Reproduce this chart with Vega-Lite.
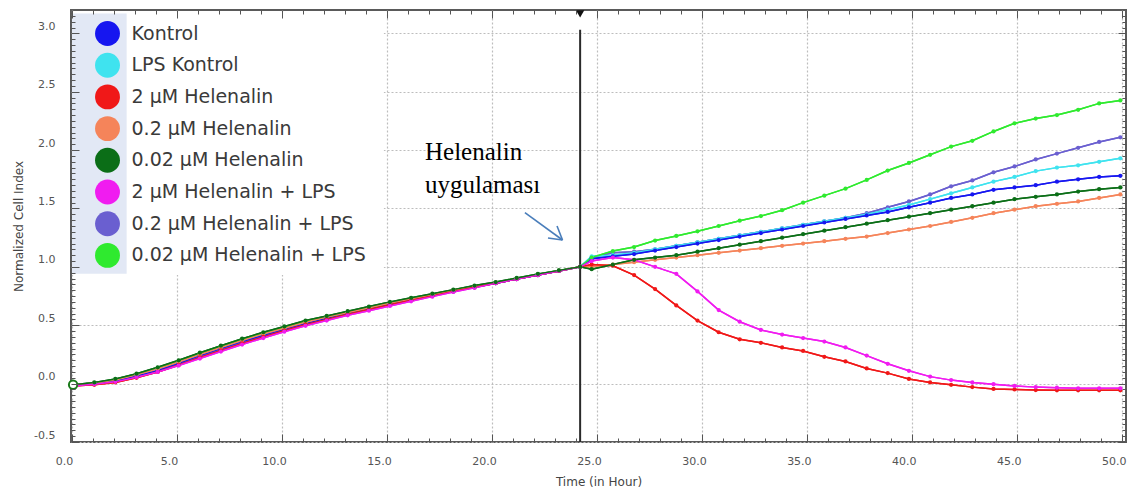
{
  "$schema": "https://vega.github.io/schema/vega-lite/v6.json",
  "width": 1055,
  "height": 432,
  "autosize": {"type": "none"},
  "padding": {"left": 71, "top": 10, "right": 13, "bottom": 61},
  "background": "white",
  "config": {
    "view": {"stroke": "#5a5a5a", "strokeWidth": 2},
    "axis": {"grid": false, "labelFont": "DejaVu Sans", "labelFontSize": 11, "labelColor": "#555555", "titleFont": "DejaVu Sans", "titleFontSize": 12, "titleFontWeight": "normal", "titleColor": "#444444", "tickColor": "#555555", "labelFlush": false, "labelOverlap": false}
  },
  "datasets": {
    "cells": [
      {"series":"0.2 µM Helenalin + LPS","t":0.05,"ci":-0.01},{"series":"0.2 µM Helenalin + LPS","t":1.06,"ci":0.0},{"series":"0.2 µM Helenalin + LPS","t":2.06,"ci":0.025},{"series":"0.2 µM Helenalin + LPS","t":3.07,"ci":0.065},{"series":"0.2 µM Helenalin + LPS","t":4.08,"ci":0.115},{"series":"0.2 µM Helenalin + LPS","t":5.08,"ci":0.17},{"series":"0.2 µM Helenalin + LPS","t":6.09,"ci":0.235},{"series":"0.2 µM Helenalin + LPS","t":7.09,"ci":0.295},{"series":"0.2 µM Helenalin + LPS","t":8.1,"ci":0.355},{"series":"0.2 µM Helenalin + LPS","t":9.11,"ci":0.41},{"series":"0.2 µM Helenalin + LPS","t":10.11,"ci":0.46},{"series":"0.2 µM Helenalin + LPS","t":11.12,"ci":0.51},{"series":"0.2 µM Helenalin + LPS","t":12.13,"ci":0.555},{"series":"0.2 µM Helenalin + LPS","t":13.13,"ci":0.6},{"series":"0.2 µM Helenalin + LPS","t":14.14,"ci":0.64},{"series":"0.2 µM Helenalin + LPS","t":15.14,"ci":0.68},{"series":"0.2 µM Helenalin + LPS","t":16.15,"ci":0.715},{"series":"0.2 µM Helenalin + LPS","t":17.16,"ci":0.755},{"series":"0.2 µM Helenalin + LPS","t":18.16,"ci":0.79},{"series":"0.2 µM Helenalin + LPS","t":19.17,"ci":0.825},{"series":"0.2 µM Helenalin + LPS","t":20.18,"ci":0.86},{"series":"0.2 µM Helenalin + LPS","t":21.18,"ci":0.895},{"series":"0.2 µM Helenalin + LPS","t":22.19,"ci":0.93},{"series":"0.2 µM Helenalin + LPS","t":23.19,"ci":0.965},{"series":"0.2 µM Helenalin + LPS","t":24.2,"ci":1.0},
      {"series":"0.2 µM Helenalin + LPS","t":24.75,"ci":1.08},{"series":"0.2 µM Helenalin + LPS","t":25.76,"ci":1.12},{"series":"0.2 µM Helenalin + LPS","t":26.77,"ci":1.13},{"series":"0.2 µM Helenalin + LPS","t":27.77,"ci":1.15},{"series":"0.2 µM Helenalin + LPS","t":28.78,"ci":1.18},{"series":"0.2 µM Helenalin + LPS","t":29.79,"ci":1.21},{"series":"0.2 µM Helenalin + LPS","t":30.8,"ci":1.24},{"series":"0.2 µM Helenalin + LPS","t":31.8,"ci":1.27},{"series":"0.2 µM Helenalin + LPS","t":32.81,"ci":1.3},{"series":"0.2 µM Helenalin + LPS","t":33.82,"ci":1.33},{"series":"0.2 µM Helenalin + LPS","t":34.82,"ci":1.36},{"series":"0.2 µM Helenalin + LPS","t":35.83,"ci":1.39},{"series":"0.2 µM Helenalin + LPS","t":36.84,"ci":1.42},{"series":"0.2 µM Helenalin + LPS","t":37.85,"ci":1.46},{"series":"0.2 µM Helenalin + LPS","t":38.85,"ci":1.51},{"series":"0.2 µM Helenalin + LPS","t":39.86,"ci":1.56},{"series":"0.2 µM Helenalin + LPS","t":40.87,"ci":1.62},{"series":"0.2 µM Helenalin + LPS","t":41.87,"ci":1.69},{"series":"0.2 µM Helenalin + LPS","t":42.88,"ci":1.74},{"series":"0.2 µM Helenalin + LPS","t":43.89,"ci":1.81},{"series":"0.2 µM Helenalin + LPS","t":44.89,"ci":1.86},{"series":"0.2 µM Helenalin + LPS","t":45.9,"ci":1.92},{"series":"0.2 µM Helenalin + LPS","t":46.91,"ci":1.97},{"series":"0.2 µM Helenalin + LPS","t":47.92,"ci":2.02},{"series":"0.2 µM Helenalin + LPS","t":48.92,"ci":2.07},{"series":"0.2 µM Helenalin + LPS","t":49.93,"ci":2.11},

      {"series":"LPS Kontrol","t":0.05,"ci":-0.01},{"series":"LPS Kontrol","t":1.06,"ci":0.005},{"series":"LPS Kontrol","t":2.06,"ci":0.03},{"series":"LPS Kontrol","t":3.07,"ci":0.07},{"series":"LPS Kontrol","t":4.08,"ci":0.12},{"series":"LPS Kontrol","t":5.08,"ci":0.18},{"series":"LPS Kontrol","t":6.09,"ci":0.245},{"series":"LPS Kontrol","t":7.09,"ci":0.305},{"series":"LPS Kontrol","t":8.1,"ci":0.365},{"series":"LPS Kontrol","t":9.11,"ci":0.42},{"series":"LPS Kontrol","t":10.11,"ci":0.47},{"series":"LPS Kontrol","t":11.12,"ci":0.52},{"series":"LPS Kontrol","t":12.13,"ci":0.565},{"series":"LPS Kontrol","t":13.13,"ci":0.605},{"series":"LPS Kontrol","t":14.14,"ci":0.645},{"series":"LPS Kontrol","t":15.14,"ci":0.685},{"series":"LPS Kontrol","t":16.15,"ci":0.72},{"series":"LPS Kontrol","t":17.16,"ci":0.76},{"series":"LPS Kontrol","t":18.16,"ci":0.795},{"series":"LPS Kontrol","t":19.17,"ci":0.83},{"series":"LPS Kontrol","t":20.18,"ci":0.865},{"series":"LPS Kontrol","t":21.18,"ci":0.9},{"series":"LPS Kontrol","t":22.19,"ci":0.935},{"series":"LPS Kontrol","t":23.19,"ci":0.965},{"series":"LPS Kontrol","t":24.2,"ci":1.0},
      {"series":"LPS Kontrol","t":24.75,"ci":1.09},{"series":"LPS Kontrol","t":25.76,"ci":1.1},{"series":"LPS Kontrol","t":26.77,"ci":1.12},{"series":"LPS Kontrol","t":27.77,"ci":1.15},{"series":"LPS Kontrol","t":28.78,"ci":1.18},{"series":"LPS Kontrol","t":29.79,"ci":1.21},{"series":"LPS Kontrol","t":30.8,"ci":1.24},{"series":"LPS Kontrol","t":31.8,"ci":1.27},{"series":"LPS Kontrol","t":32.81,"ci":1.3},{"series":"LPS Kontrol","t":33.82,"ci":1.33},{"series":"LPS Kontrol","t":34.82,"ci":1.36},{"series":"LPS Kontrol","t":35.83,"ci":1.39},{"series":"LPS Kontrol","t":36.84,"ci":1.42},{"series":"LPS Kontrol","t":37.85,"ci":1.45},{"series":"LPS Kontrol","t":38.85,"ci":1.49},{"series":"LPS Kontrol","t":39.86,"ci":1.53},{"series":"LPS Kontrol","t":40.87,"ci":1.58},{"series":"LPS Kontrol","t":41.87,"ci":1.63},{"series":"LPS Kontrol","t":42.88,"ci":1.68},{"series":"LPS Kontrol","t":43.89,"ci":1.73},{"series":"LPS Kontrol","t":44.89,"ci":1.77},{"series":"LPS Kontrol","t":45.9,"ci":1.82},{"series":"LPS Kontrol","t":46.91,"ci":1.85},{"series":"LPS Kontrol","t":47.92,"ci":1.87},{"series":"LPS Kontrol","t":48.92,"ci":1.9},{"series":"LPS Kontrol","t":49.93,"ci":1.93},

      {"series":"Kontrol","t":0.05,"ci":-0.01},{"series":"Kontrol","t":1.06,"ci":0.0},{"series":"Kontrol","t":2.06,"ci":0.025},{"series":"Kontrol","t":3.07,"ci":0.065},{"series":"Kontrol","t":4.08,"ci":0.115},{"series":"Kontrol","t":5.08,"ci":0.175},{"series":"Kontrol","t":6.09,"ci":0.24},{"series":"Kontrol","t":7.09,"ci":0.3},{"series":"Kontrol","t":8.1,"ci":0.36},{"series":"Kontrol","t":9.11,"ci":0.415},{"series":"Kontrol","t":10.11,"ci":0.465},{"series":"Kontrol","t":11.12,"ci":0.515},{"series":"Kontrol","t":12.13,"ci":0.56},{"series":"Kontrol","t":13.13,"ci":0.6},{"series":"Kontrol","t":14.14,"ci":0.64},{"series":"Kontrol","t":15.14,"ci":0.68},{"series":"Kontrol","t":16.15,"ci":0.72},{"series":"Kontrol","t":17.16,"ci":0.755},{"series":"Kontrol","t":18.16,"ci":0.79},{"series":"Kontrol","t":19.17,"ci":0.83},{"series":"Kontrol","t":20.18,"ci":0.86},{"series":"Kontrol","t":21.18,"ci":0.895},{"series":"Kontrol","t":22.19,"ci":0.93},{"series":"Kontrol","t":23.19,"ci":0.965},{"series":"Kontrol","t":24.2,"ci":1.0},
      {"series":"Kontrol","t":24.75,"ci":1.07},{"series":"Kontrol","t":25.76,"ci":1.09},{"series":"Kontrol","t":26.77,"ci":1.11},{"series":"Kontrol","t":27.77,"ci":1.14},{"series":"Kontrol","t":28.78,"ci":1.17},{"series":"Kontrol","t":29.79,"ci":1.2},{"series":"Kontrol","t":30.8,"ci":1.23},{"series":"Kontrol","t":31.8,"ci":1.26},{"series":"Kontrol","t":32.81,"ci":1.29},{"series":"Kontrol","t":33.82,"ci":1.32},{"series":"Kontrol","t":34.82,"ci":1.35},{"series":"Kontrol","t":35.83,"ci":1.38},{"series":"Kontrol","t":36.84,"ci":1.41},{"series":"Kontrol","t":37.85,"ci":1.44},{"series":"Kontrol","t":38.85,"ci":1.47},{"series":"Kontrol","t":39.86,"ci":1.51},{"series":"Kontrol","t":40.87,"ci":1.55},{"series":"Kontrol","t":41.87,"ci":1.59},{"series":"Kontrol","t":42.88,"ci":1.62},{"series":"Kontrol","t":43.89,"ci":1.66},{"series":"Kontrol","t":44.89,"ci":1.68},{"series":"Kontrol","t":45.9,"ci":1.7},{"series":"Kontrol","t":46.91,"ci":1.73},{"series":"Kontrol","t":47.92,"ci":1.75},{"series":"Kontrol","t":48.92,"ci":1.77},{"series":"Kontrol","t":49.93,"ci":1.78},

      {"series":"0.02 µM Helenalin + LPS","t":0.05,"ci":-0.01},{"series":"0.02 µM Helenalin + LPS","t":1.06,"ci":0.005},{"series":"0.02 µM Helenalin + LPS","t":2.06,"ci":0.035},{"series":"0.02 µM Helenalin + LPS","t":3.07,"ci":0.08},{"series":"0.02 µM Helenalin + LPS","t":4.08,"ci":0.135},{"series":"0.02 µM Helenalin + LPS","t":5.08,"ci":0.195},{"series":"0.02 µM Helenalin + LPS","t":6.09,"ci":0.26},{"series":"0.02 µM Helenalin + LPS","t":7.09,"ci":0.32},{"series":"0.02 µM Helenalin + LPS","t":8.1,"ci":0.38},{"series":"0.02 µM Helenalin + LPS","t":9.11,"ci":0.43},{"series":"0.02 µM Helenalin + LPS","t":10.11,"ci":0.48},{"series":"0.02 µM Helenalin + LPS","t":11.12,"ci":0.53},{"series":"0.02 µM Helenalin + LPS","t":12.13,"ci":0.57},{"series":"0.02 µM Helenalin + LPS","t":13.13,"ci":0.61},{"series":"0.02 µM Helenalin + LPS","t":14.14,"ci":0.65},{"series":"0.02 µM Helenalin + LPS","t":15.14,"ci":0.69},{"series":"0.02 µM Helenalin + LPS","t":16.15,"ci":0.73},{"series":"0.02 µM Helenalin + LPS","t":17.16,"ci":0.765},{"series":"0.02 µM Helenalin + LPS","t":18.16,"ci":0.8},{"series":"0.02 µM Helenalin + LPS","t":19.17,"ci":0.835},{"series":"0.02 µM Helenalin + LPS","t":20.18,"ci":0.865},{"series":"0.02 µM Helenalin + LPS","t":21.18,"ci":0.9},{"series":"0.02 µM Helenalin + LPS","t":22.19,"ci":0.935},{"series":"0.02 µM Helenalin + LPS","t":23.19,"ci":0.97},{"series":"0.02 µM Helenalin + LPS","t":24.2,"ci":1.0},
      {"series":"0.02 µM Helenalin + LPS","t":24.75,"ci":1.08},{"series":"0.02 µM Helenalin + LPS","t":25.76,"ci":1.135},{"series":"0.02 µM Helenalin + LPS","t":26.77,"ci":1.17},{"series":"0.02 µM Helenalin + LPS","t":27.77,"ci":1.225},{"series":"0.02 µM Helenalin + LPS","t":28.78,"ci":1.265},{"series":"0.02 µM Helenalin + LPS","t":29.79,"ci":1.305},{"series":"0.02 µM Helenalin + LPS","t":30.8,"ci":1.35},{"series":"0.02 µM Helenalin + LPS","t":31.8,"ci":1.395},{"series":"0.02 µM Helenalin + LPS","t":32.81,"ci":1.435},{"series":"0.02 µM Helenalin + LPS","t":33.82,"ci":1.485},{"series":"0.02 µM Helenalin + LPS","t":34.82,"ci":1.55},{"series":"0.02 µM Helenalin + LPS","t":35.83,"ci":1.61},{"series":"0.02 µM Helenalin + LPS","t":36.84,"ci":1.67},{"series":"0.02 µM Helenalin + LPS","t":37.85,"ci":1.745},{"series":"0.02 µM Helenalin + LPS","t":38.85,"ci":1.825},{"series":"0.02 µM Helenalin + LPS","t":39.86,"ci":1.89},{"series":"0.02 µM Helenalin + LPS","t":40.87,"ci":1.96},{"series":"0.02 µM Helenalin + LPS","t":41.87,"ci":2.03},{"series":"0.02 µM Helenalin + LPS","t":42.88,"ci":2.08},{"series":"0.02 µM Helenalin + LPS","t":43.89,"ci":2.16},{"series":"0.02 µM Helenalin + LPS","t":44.89,"ci":2.23},{"series":"0.02 µM Helenalin + LPS","t":45.9,"ci":2.27},{"series":"0.02 µM Helenalin + LPS","t":46.91,"ci":2.3},{"series":"0.02 µM Helenalin + LPS","t":47.92,"ci":2.345},{"series":"0.02 µM Helenalin + LPS","t":48.92,"ci":2.4},{"series":"0.02 µM Helenalin + LPS","t":49.93,"ci":2.425},

      {"series":"0.2 µM Helenalin","t":0.05,"ci":-0.01},{"series":"0.2 µM Helenalin","t":1.06,"ci":0.005},{"series":"0.2 µM Helenalin","t":2.06,"ci":0.03},{"series":"0.2 µM Helenalin","t":3.07,"ci":0.075},{"series":"0.2 µM Helenalin","t":4.08,"ci":0.125},{"series":"0.2 µM Helenalin","t":5.08,"ci":0.185},{"series":"0.2 µM Helenalin","t":6.09,"ci":0.25},{"series":"0.2 µM Helenalin","t":7.09,"ci":0.31},{"series":"0.2 µM Helenalin","t":8.1,"ci":0.37},{"series":"0.2 µM Helenalin","t":9.11,"ci":0.425},{"series":"0.2 µM Helenalin","t":10.11,"ci":0.475},{"series":"0.2 µM Helenalin","t":11.12,"ci":0.525},{"series":"0.2 µM Helenalin","t":12.13,"ci":0.57},{"series":"0.2 µM Helenalin","t":13.13,"ci":0.61},{"series":"0.2 µM Helenalin","t":14.14,"ci":0.65},{"series":"0.2 µM Helenalin","t":15.14,"ci":0.69},{"series":"0.2 µM Helenalin","t":16.15,"ci":0.725},{"series":"0.2 µM Helenalin","t":17.16,"ci":0.76},{"series":"0.2 µM Helenalin","t":18.16,"ci":0.8},{"series":"0.2 µM Helenalin","t":19.17,"ci":0.835},{"series":"0.2 µM Helenalin","t":20.18,"ci":0.865},{"series":"0.2 µM Helenalin","t":21.18,"ci":0.9},{"series":"0.2 µM Helenalin","t":22.19,"ci":0.935},{"series":"0.2 µM Helenalin","t":23.19,"ci":0.965},{"series":"0.2 µM Helenalin","t":24.2,"ci":1.0},
      {"series":"0.2 µM Helenalin","t":24.75,"ci":1.0},{"series":"0.2 µM Helenalin","t":25.76,"ci":1.02},{"series":"0.2 µM Helenalin","t":26.77,"ci":1.04},{"series":"0.2 µM Helenalin","t":27.77,"ci":1.06},{"series":"0.2 µM Helenalin","t":28.78,"ci":1.08},{"series":"0.2 µM Helenalin","t":29.79,"ci":1.1},{"series":"0.2 µM Helenalin","t":30.8,"ci":1.12},{"series":"0.2 µM Helenalin","t":31.8,"ci":1.14},{"series":"0.2 µM Helenalin","t":32.81,"ci":1.16},{"series":"0.2 µM Helenalin","t":33.82,"ci":1.18},{"series":"0.2 µM Helenalin","t":34.82,"ci":1.2},{"series":"0.2 µM Helenalin","t":35.83,"ci":1.22},{"series":"0.2 µM Helenalin","t":36.84,"ci":1.24},{"series":"0.2 µM Helenalin","t":37.85,"ci":1.26},{"series":"0.2 µM Helenalin","t":38.85,"ci":1.29},{"series":"0.2 µM Helenalin","t":39.86,"ci":1.32},{"series":"0.2 µM Helenalin","t":40.87,"ci":1.35},{"series":"0.2 µM Helenalin","t":41.87,"ci":1.385},{"series":"0.2 µM Helenalin","t":42.88,"ci":1.42},{"series":"0.2 µM Helenalin","t":43.89,"ci":1.46},{"series":"0.2 µM Helenalin","t":44.89,"ci":1.49},{"series":"0.2 µM Helenalin","t":45.9,"ci":1.52},{"series":"0.2 µM Helenalin","t":46.91,"ci":1.54},{"series":"0.2 µM Helenalin","t":47.92,"ci":1.56},{"series":"0.2 µM Helenalin","t":48.92,"ci":1.59},{"series":"0.2 µM Helenalin","t":49.93,"ci":1.62},

      {"series":"2 µM Helenalin","t":0.05,"ci":-0.02},{"series":"2 µM Helenalin","t":1.06,"ci":-0.01},{"series":"2 µM Helenalin","t":2.06,"ci":0.01},{"series":"2 µM Helenalin","t":3.07,"ci":0.05},{"series":"2 µM Helenalin","t":4.08,"ci":0.1},{"series":"2 µM Helenalin","t":5.08,"ci":0.16},{"series":"2 µM Helenalin","t":6.09,"ci":0.225},{"series":"2 µM Helenalin","t":7.09,"ci":0.285},{"series":"2 µM Helenalin","t":8.1,"ci":0.345},{"series":"2 µM Helenalin","t":9.11,"ci":0.4},{"series":"2 µM Helenalin","t":10.11,"ci":0.455},{"series":"2 µM Helenalin","t":11.12,"ci":0.505},{"series":"2 µM Helenalin","t":12.13,"ci":0.55},{"series":"2 µM Helenalin","t":13.13,"ci":0.595},{"series":"2 µM Helenalin","t":14.14,"ci":0.635},{"series":"2 µM Helenalin","t":15.14,"ci":0.675},{"series":"2 µM Helenalin","t":16.15,"ci":0.715},{"series":"2 µM Helenalin","t":17.16,"ci":0.75},{"series":"2 µM Helenalin","t":18.16,"ci":0.79},{"series":"2 µM Helenalin","t":19.17,"ci":0.825},{"series":"2 µM Helenalin","t":20.18,"ci":0.86},{"series":"2 µM Helenalin","t":21.18,"ci":0.895},{"series":"2 µM Helenalin","t":22.19,"ci":0.93},{"series":"2 µM Helenalin","t":23.19,"ci":0.965},{"series":"2 µM Helenalin","t":24.2,"ci":1.0},
      {"series":"2 µM Helenalin","t":24.75,"ci":1.02},{"series":"2 µM Helenalin","t":25.76,"ci":1.01},{"series":"2 µM Helenalin","t":26.77,"ci":0.93},{"series":"2 µM Helenalin","t":27.77,"ci":0.81},{"series":"2 µM Helenalin","t":28.78,"ci":0.67},{"series":"2 µM Helenalin","t":29.79,"ci":0.54},{"series":"2 µM Helenalin","t":30.8,"ci":0.44},{"series":"2 µM Helenalin","t":31.8,"ci":0.38},{"series":"2 µM Helenalin","t":32.81,"ci":0.35},{"series":"2 µM Helenalin","t":33.82,"ci":0.31},{"series":"2 µM Helenalin","t":34.82,"ci":0.28},{"series":"2 µM Helenalin","t":35.83,"ci":0.23},{"series":"2 µM Helenalin","t":36.84,"ci":0.19},{"series":"2 µM Helenalin","t":37.85,"ci":0.13},{"series":"2 µM Helenalin","t":38.85,"ci":0.09},{"series":"2 µM Helenalin","t":39.86,"ci":0.04},{"series":"2 µM Helenalin","t":40.87,"ci":0.01},{"series":"2 µM Helenalin","t":41.87,"ci":-0.01},{"series":"2 µM Helenalin","t":42.88,"ci":-0.03},{"series":"2 µM Helenalin","t":43.89,"ci":-0.045},{"series":"2 µM Helenalin","t":44.89,"ci":-0.05},{"series":"2 µM Helenalin","t":45.9,"ci":-0.055},{"series":"2 µM Helenalin","t":46.91,"ci":-0.057},{"series":"2 µM Helenalin","t":47.92,"ci":-0.057},{"series":"2 µM Helenalin","t":48.92,"ci":-0.057},{"series":"2 µM Helenalin","t":49.93,"ci":-0.057},

      {"series":"2 µM Helenalin + LPS","t":0.05,"ci":-0.02},{"series":"2 µM Helenalin + LPS","t":1.06,"ci":-0.005},{"series":"2 µM Helenalin + LPS","t":2.06,"ci":0.015},{"series":"2 µM Helenalin + LPS","t":3.07,"ci":0.055},{"series":"2 µM Helenalin + LPS","t":4.08,"ci":0.1},{"series":"2 µM Helenalin + LPS","t":5.08,"ci":0.155},{"series":"2 µM Helenalin + LPS","t":6.09,"ci":0.215},{"series":"2 µM Helenalin + LPS","t":7.09,"ci":0.275},{"series":"2 µM Helenalin + LPS","t":8.1,"ci":0.335},{"series":"2 µM Helenalin + LPS","t":9.11,"ci":0.39},{"series":"2 µM Helenalin + LPS","t":10.11,"ci":0.445},{"series":"2 µM Helenalin + LPS","t":11.12,"ci":0.495},{"series":"2 µM Helenalin + LPS","t":12.13,"ci":0.54},{"series":"2 µM Helenalin + LPS","t":13.13,"ci":0.585},{"series":"2 µM Helenalin + LPS","t":14.14,"ci":0.625},{"series":"2 µM Helenalin + LPS","t":15.14,"ci":0.665},{"series":"2 µM Helenalin + LPS","t":16.15,"ci":0.705},{"series":"2 µM Helenalin + LPS","t":17.16,"ci":0.745},{"series":"2 µM Helenalin + LPS","t":18.16,"ci":0.785},{"series":"2 µM Helenalin + LPS","t":19.17,"ci":0.82},{"series":"2 µM Helenalin + LPS","t":20.18,"ci":0.86},{"series":"2 µM Helenalin + LPS","t":21.18,"ci":0.895},{"series":"2 µM Helenalin + LPS","t":22.19,"ci":0.93},{"series":"2 µM Helenalin + LPS","t":23.19,"ci":0.965},{"series":"2 µM Helenalin + LPS","t":24.2,"ci":1.0},
      {"series":"2 µM Helenalin + LPS","t":24.75,"ci":1.05},{"series":"2 µM Helenalin + LPS","t":25.76,"ci":1.08},{"series":"2 µM Helenalin + LPS","t":26.77,"ci":1.06},{"series":"2 µM Helenalin + LPS","t":27.77,"ci":1.0},{"series":"2 µM Helenalin + LPS","t":28.78,"ci":0.94},{"series":"2 µM Helenalin + LPS","t":29.79,"ci":0.79},{"series":"2 µM Helenalin + LPS","t":30.8,"ci":0.63},{"series":"2 µM Helenalin + LPS","t":31.8,"ci":0.53},{"series":"2 µM Helenalin + LPS","t":32.81,"ci":0.46},{"series":"2 µM Helenalin + LPS","t":33.82,"ci":0.42},{"series":"2 µM Helenalin + LPS","t":34.82,"ci":0.39},{"series":"2 µM Helenalin + LPS","t":35.83,"ci":0.36},{"series":"2 µM Helenalin + LPS","t":36.84,"ci":0.31},{"series":"2 µM Helenalin + LPS","t":37.85,"ci":0.24},{"series":"2 µM Helenalin + LPS","t":38.85,"ci":0.17},{"series":"2 µM Helenalin + LPS","t":39.86,"ci":0.11},{"series":"2 µM Helenalin + LPS","t":40.87,"ci":0.06},{"series":"2 µM Helenalin + LPS","t":41.87,"ci":0.03},{"series":"2 µM Helenalin + LPS","t":42.88,"ci":0.01},{"series":"2 µM Helenalin + LPS","t":43.89,"ci":-0.005},{"series":"2 µM Helenalin + LPS","t":44.89,"ci":-0.02},{"series":"2 µM Helenalin + LPS","t":45.9,"ci":-0.03},{"series":"2 µM Helenalin + LPS","t":46.91,"ci":-0.035},{"series":"2 µM Helenalin + LPS","t":47.92,"ci":-0.04},{"series":"2 µM Helenalin + LPS","t":48.92,"ci":-0.04},{"series":"2 µM Helenalin + LPS","t":49.93,"ci":-0.04},

      {"series":"0.02 µM Helenalin","t":0.05,"ci":-0.01},{"series":"0.02 µM Helenalin","t":1.06,"ci":0.01},{"series":"0.02 µM Helenalin","t":2.06,"ci":0.04},{"series":"0.02 µM Helenalin","t":3.07,"ci":0.085},{"series":"0.02 µM Helenalin","t":4.08,"ci":0.14},{"series":"0.02 µM Helenalin","t":5.08,"ci":0.2},{"series":"0.02 µM Helenalin","t":6.09,"ci":0.265},{"series":"0.02 µM Helenalin","t":7.09,"ci":0.325},{"series":"0.02 µM Helenalin","t":8.1,"ci":0.385},{"series":"0.02 µM Helenalin","t":9.11,"ci":0.44},{"series":"0.02 µM Helenalin","t":10.11,"ci":0.49},{"series":"0.02 µM Helenalin","t":11.12,"ci":0.54},{"series":"0.02 µM Helenalin","t":12.13,"ci":0.58},{"series":"0.02 µM Helenalin","t":13.13,"ci":0.62},{"series":"0.02 µM Helenalin","t":14.14,"ci":0.66},{"series":"0.02 µM Helenalin","t":15.14,"ci":0.7},{"series":"0.02 µM Helenalin","t":16.15,"ci":0.735},{"series":"0.02 µM Helenalin","t":17.16,"ci":0.77},{"series":"0.02 µM Helenalin","t":18.16,"ci":0.805},{"series":"0.02 µM Helenalin","t":19.17,"ci":0.84},{"series":"0.02 µM Helenalin","t":20.18,"ci":0.87},{"series":"0.02 µM Helenalin","t":21.18,"ci":0.905},{"series":"0.02 µM Helenalin","t":22.19,"ci":0.94},{"series":"0.02 µM Helenalin","t":23.19,"ci":0.97},{"series":"0.02 µM Helenalin","t":24.2,"ci":1.0},
      {"series":"0.02 µM Helenalin","t":24.75,"ci":0.98},{"series":"0.02 µM Helenalin","t":25.76,"ci":1.02},{"series":"0.02 µM Helenalin","t":26.77,"ci":1.06},{"series":"0.02 µM Helenalin","t":27.77,"ci":1.08},{"series":"0.02 µM Helenalin","t":28.78,"ci":1.1},{"series":"0.02 µM Helenalin","t":29.79,"ci":1.13},{"series":"0.02 µM Helenalin","t":30.8,"ci":1.16},{"series":"0.02 µM Helenalin","t":31.8,"ci":1.19},{"series":"0.02 µM Helenalin","t":32.81,"ci":1.22},{"series":"0.02 µM Helenalin","t":33.82,"ci":1.25},{"series":"0.02 µM Helenalin","t":34.82,"ci":1.28},{"series":"0.02 µM Helenalin","t":35.83,"ci":1.31},{"series":"0.02 µM Helenalin","t":36.84,"ci":1.34},{"series":"0.02 µM Helenalin","t":37.85,"ci":1.37},{"series":"0.02 µM Helenalin","t":38.85,"ci":1.4},{"series":"0.02 µM Helenalin","t":39.86,"ci":1.43},{"series":"0.02 µM Helenalin","t":40.87,"ci":1.46},{"series":"0.02 µM Helenalin","t":41.87,"ci":1.49},{"series":"0.02 µM Helenalin","t":42.88,"ci":1.52},{"series":"0.02 µM Helenalin","t":43.89,"ci":1.55},{"series":"0.02 µM Helenalin","t":44.89,"ci":1.58},{"series":"0.02 µM Helenalin","t":45.9,"ci":1.6},{"series":"0.02 µM Helenalin","t":46.91,"ci":1.62},{"series":"0.02 µM Helenalin","t":47.92,"ci":1.645},{"series":"0.02 µM Helenalin","t":48.92,"ci":1.665},{"series":"0.02 µM Helenalin","t":49.93,"ci":1.68}
    ]
  },
  "layer": [
    {
      "data": {"name": "cells"},
      "mark": {"type": "line", "strokeWidth": 1.5},
      "encoding": {
        "x": {"field": "t", "type": "quantitative", "scale": {"domain": [-0.05, 50.2], "nice": false, "zero": false}, "axis": {"orient": "bottom", "values": [0, 5, 10, 15, 20, 25, 30, 35, 40, 45, 50], "grid": true, "gridColor": "#bdbdbd", "gridDash": [2, 2], "gridWidth": 1.2, "ticks": false, "domain": false, "labelExpr": "format(datum.value, '.1f')", "labelOffset": -8, "labelPadding": 13, "title": "Time (in Hour)", "titlePadding": 10}},
        "y": {"field": "ci", "type": "quantitative", "scale": {"domain": [-0.5, 3.2], "nice": false, "zero": false}, "axis": {"orient": "left", "values": [-0.5, 0, 0.5, 1, 1.5, 2, 2.5, 3], "grid": true, "gridColor": "#bdbdbd", "gridDash": [2, 2], "gridWidth": 1.2, "ticks": false, "domain": false, "labelExpr": "replace(format(datum.value, '.1f'), '\u2212', '-')", "labelOffset": -7, "labelPadding": 16, "title": "Normalized Cell Index", "titlePadding": 8}},
        "color": {"field": "series", "type": "nominal", "legend": null, "scale": {"domain": ["Kontrol", "LPS Kontrol", "2 µM Helenalin", "0.2 µM Helenalin", "0.02 µM Helenalin", "2 µM Helenalin + LPS", "0.2 µM Helenalin + LPS", "0.02 µM Helenalin + LPS"], "range": ["#1616f0", "#3fe3ef", "#f01818", "#f5845a", "#0b6e17", "#f01cf0", "#6a5fd0", "#2fea2f"]}}
      }
    },
    {
      "data": {"values": [{}]},
      "mark": {"type": "rect", "fill": "white"},
      "encoding": {
        "x": {"datum": 0, "type": "quantitative", "axis": null},
        "x2": {"datum": 14.85},
        "y": {"datum": 3.18, "type": "quantitative", "axis": null},
        "y2": {"datum": 0.93}
      }
    },
    {
      "data": {"values": [{}]},
      "mark": {"type": "rect", "fill": "#e2e8f5"},
      "encoding": {
        "x": {"datum": 0, "type": "quantitative", "axis": null},
        "x2": {"datum": 2.6},
        "y": {"datum": 3.17, "type": "quantitative", "axis": null},
        "y2": {"datum": 0.94}
      }
    },
    {
      "data": {"values": [{}]},
      "mark": {"type": "rule", "color": "#2a2a2a", "strokeWidth": 2},
      "encoding": {
        "x": {"datum": 24.2, "type": "quantitative", "axis": null},
        "y": {"datum": -0.5, "type": "quantitative", "axis": null},
        "y2": {"datum": 3.03}
      }
    },
    {
      "data": {"name": "cells"},
      "mark": {"type": "line", "strokeWidth": 1.5},
      "encoding": {
        "x": {"field": "t", "type": "quantitative", "axis": null},
        "y": {"field": "ci", "type": "quantitative", "axis": null},
        "color": {"field": "series", "type": "nominal", "legend": null}
      }
    },
    {
      "data": {"name": "cells"},
      "mark": {"type": "point", "filled": true, "size": 18, "opacity": 1},
      "encoding": {
        "x": {"field": "t", "type": "quantitative", "axis": {"orient": "bottom", "zindex": 1, "values": [0,1,2,3,4,5,6,7,8,9,10,11,12,13,14,15,16,17,18,19,20,21,22,23,24,25,26,27,28,29,30,31,32,33,34,35,36,37,38,39,40,41,42,43,44,45,46,47,48,49,50], "grid": false, "labels": false, "domain": false, "title": null, "tickSize": {"condition": {"test": "datum.value % 5 === 0", "value": -8}, "value": -4}}},
        "y": {"field": "ci", "type": "quantitative", "axis": {"orient": "left", "zindex": 1, "values": [-0.5,-0.45,-0.4,-0.35,-0.3,-0.25,-0.2,-0.15,-0.1,-0.05,0,0.05,0.1,0.15,0.2,0.25,0.3,0.35,0.4,0.45,0.5,0.55,0.6,0.65,0.7,0.75,0.8,0.85,0.9,0.95,1,1.05,1.1,1.15,1.2,1.25,1.3,1.35,1.4,1.45,1.5,1.55,1.6,1.65,1.7,1.75,1.8,1.85,1.9,1.95,2,2.05,2.1,2.15,2.2,2.25,2.3,2.35,2.4,2.45,2.5,2.55,2.6,2.65,2.7,2.75,2.8,2.85,2.9,2.95,3,3.05,3.1,3.15], "grid": false, "labels": false, "domain": false, "title": null, "tickSize": {"condition": {"test": "abs(datum.value * 2 - round(datum.value * 2)) < 0.001", "value": -8}, "value": -4}}},
        "color": {"field": "series", "type": "nominal", "legend": {"orient": "none", "legendX": 24, "legendY": 11, "title": null, "padding": 0, "symbolType": "circle", "symbolSize": 620, "symbolStrokeWidth": 0, "symbolOpacity": 1, "labelFont": "DejaVu Sans", "labelFontSize": 19, "labelColor": "#3a3a3a", "labelOffset": 11.5, "rowPadding": 6.7, "labelLimit": 400}}
      }
    },
    {
      "data": {"name": "cells"},
      "transform": [{"filter": "datum.series === '0.02 µM Helenalin' && datum.t < 0.1"}],
      "mark": {"type": "point", "filled": false, "fill": "white", "stroke": "#1a7a1a", "strokeWidth": 2, "size": 70, "opacity": 1},
      "encoding": {
        "x": {"field": "t", "type": "quantitative", "axis": {"orient": "top", "zindex": 1, "values": [0,1,2,3,4,5,6,7,8,9,10,11,12,13,14,15,16,17,18,19,20,21,22,23,24,25,26,27,28,29,30,31,32,33,34,35,36,37,38,39,40,41,42,43,44,45,46,47,48,49,50], "grid": false, "labels": false, "domain": false, "title": null, "tickSize": {"condition": {"test": "datum.value % 5 === 0", "value": -8}, "value": -4}}},
        "y": {"field": "ci", "type": "quantitative", "axis": {"orient": "right", "zindex": 1, "values": [-0.5,-0.45,-0.4,-0.35,-0.3,-0.25,-0.2,-0.15,-0.1,-0.05,0,0.05,0.1,0.15,0.2,0.25,0.3,0.35,0.4,0.45,0.5,0.55,0.6,0.65,0.7,0.75,0.8,0.85,0.9,0.95,1,1.05,1.1,1.15,1.2,1.25,1.3,1.35,1.4,1.45,1.5,1.55,1.6,1.65,1.7,1.75,1.8,1.85,1.9,1.95,2,2.05,2.1,2.15,2.2,2.25,2.3,2.35,2.4,2.45,2.5,2.55,2.6,2.65,2.7,2.75,2.8,2.85,2.9,2.95,3,3.05,3.1,3.15], "grid": false, "labels": false, "domain": false, "title": null, "tickSize": {"condition": {"test": "abs(datum.value * 2 - round(datum.value * 2)) < 0.001", "value": -8}, "value": -4}}}
      }
    },
    {
      "data": {"values": [{}]},
      "mark": {"type": "point", "shape": "triangle-down", "filled": true, "color": "#111111", "size": 70, "opacity": 1},
      "encoding": {
        "x": {"datum": 24.2, "type": "quantitative", "axis": null},
        "y": {"datum": 3.166, "type": "quantitative", "axis": null}
      }
    },
    {
      "data": {"values": [{}]},
      "mark": {"type": "text", "text": ["Helenalin", "uygulaması"], "font": "Liberation Serif", "fontSize": 25, "align": "left", "baseline": "alphabetic", "lineHeight": 33, "color": "#000000"},
      "encoding": {
        "x": {"datum": 16.81, "type": "quantitative", "axis": null},
        "y": {"datum": 1.915, "type": "quantitative", "axis": null}
      }
    },
    {
      "data": {"values": [{}]},
      "mark": {"type": "rule", "color": "#4a7ebb", "strokeWidth": 1.6},
      "encoding": {
        "x": {"datum": 21.57, "type": "quantitative", "axis": null},
        "x2": {"datum": 23.36},
        "y": {"datum": 1.464, "type": "quantitative", "axis": null},
        "y2": {"datum": 1.23}
      }
    },
    {
      "data": {"values": [{}]},
      "mark": {"type": "rule", "color": "#4a7ebb", "strokeWidth": 1.6},
      "encoding": {
        "x": {"datum": 22.67, "type": "quantitative", "axis": null},
        "x2": {"datum": 23.36},
        "y": {"datum": 1.247, "type": "quantitative", "axis": null},
        "y2": {"datum": 1.23}
      }
    },
    {
      "data": {"values": [{}]},
      "mark": {"type": "rule", "color": "#4a7ebb", "strokeWidth": 1.6},
      "encoding": {
        "x": {"datum": 23.1, "type": "quantitative", "axis": null},
        "x2": {"datum": 23.36},
        "y": {"datum": 1.35, "type": "quantitative", "axis": null},
        "y2": {"datum": 1.23}
      }
    }
  ],
  "resolve": {"axis": {"x": "independent", "y": "independent"}, "legend": {"color": "independent"}}
}
